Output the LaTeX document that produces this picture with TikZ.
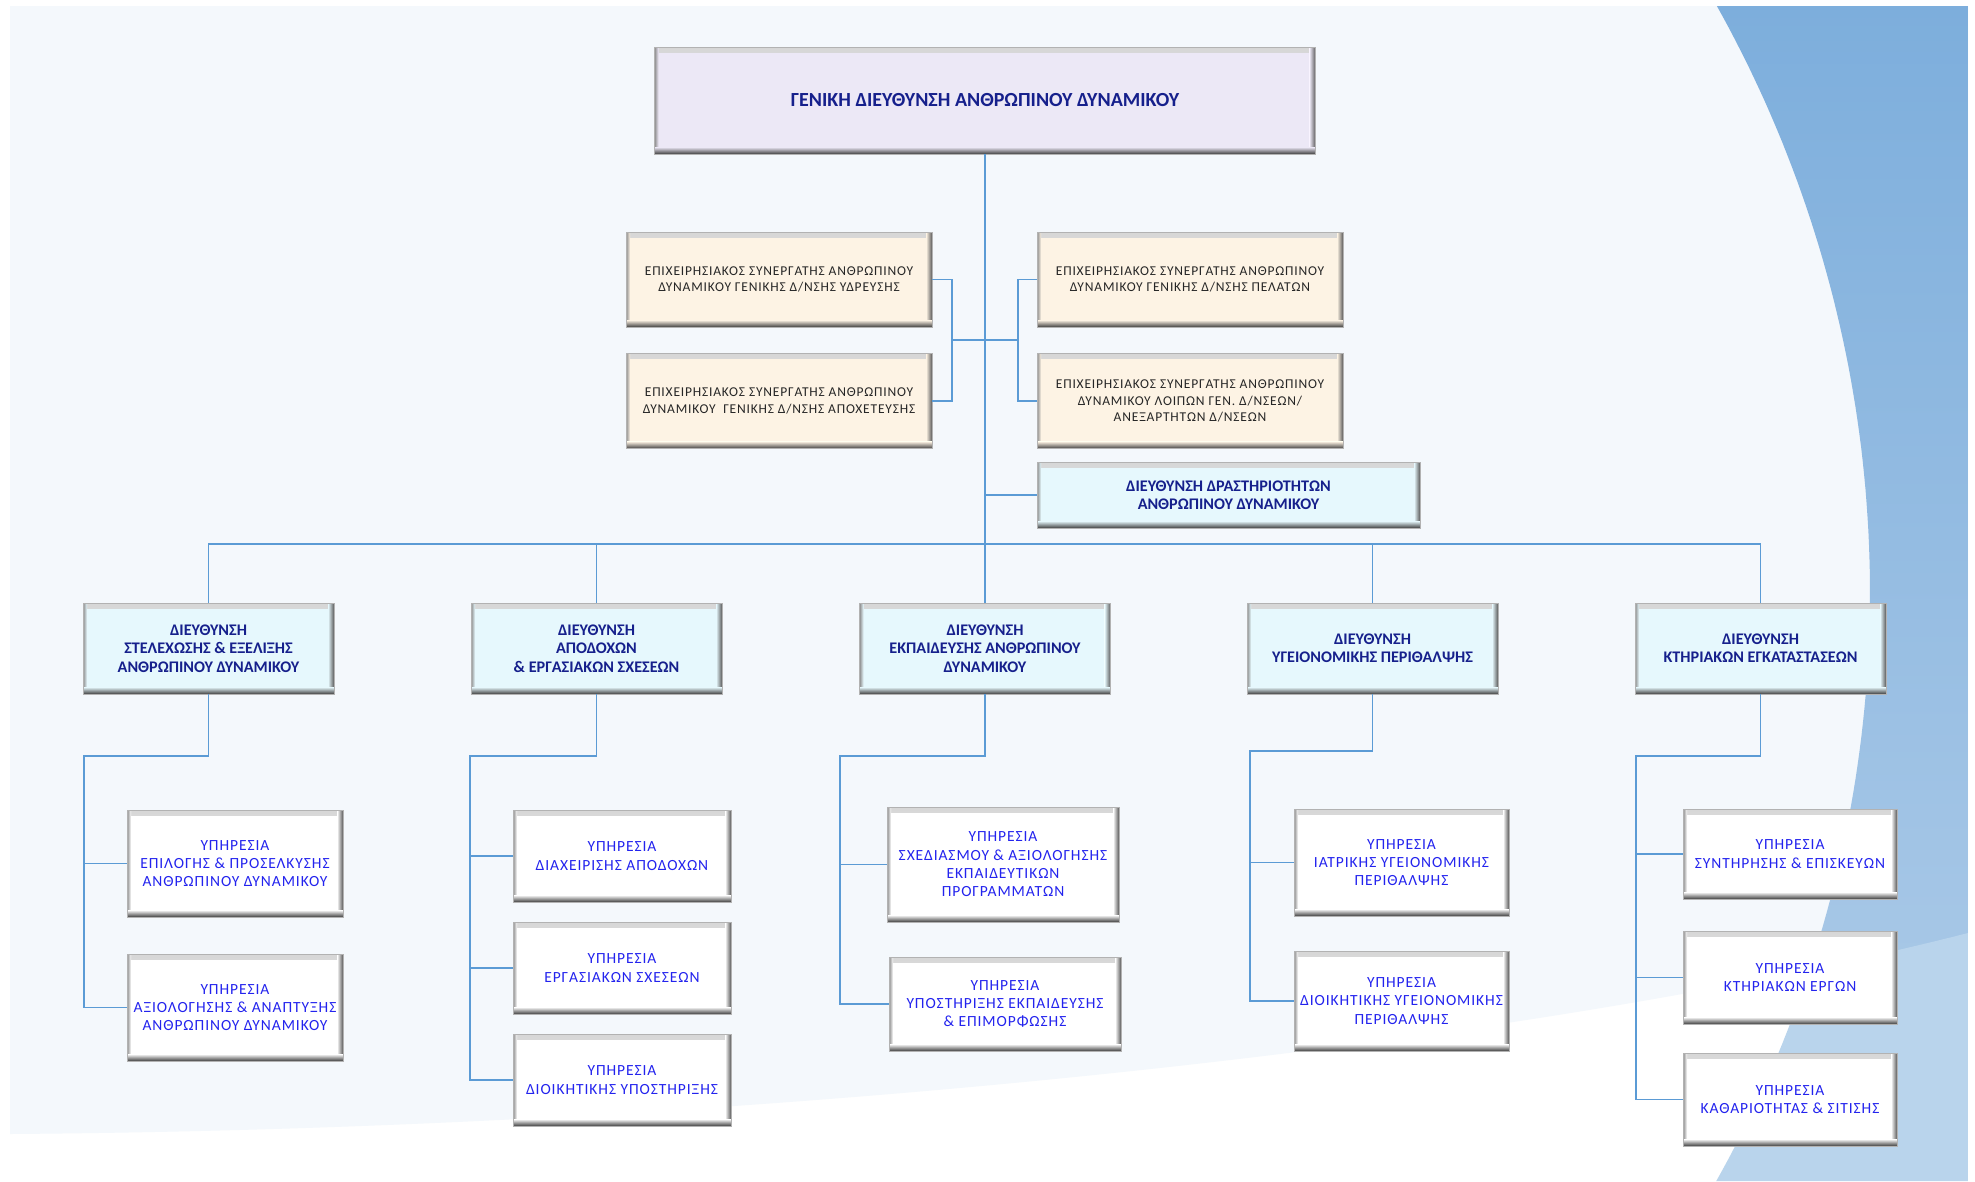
\documentclass[tikz,border=0pt]{standalone}
\usepackage{fontspec}
\setmainfont{Carlito}
\newfontfamily\spacedfont[LetterSpace=6]{Carlito}
\definecolor{panelc}{HTML}{F4F8FC}
\definecolor{blueA}{HTML}{7DAEDC}
\definecolor{blueB}{HTML}{A8C8E7}
\definecolor{blueC}{HTML}{B9D4EC}
\definecolor{lineC}{HTML}{5B9BD5}
\definecolor{titlefill}{HTML}{ECE8F6}
\definecolor{advfill}{HTML}{FDF3E4}
\definecolor{dirfill}{HTML}{E6F8FD}
\definecolor{svcfill}{HTML}{FFFFFF}
\definecolor{navy}{HTML}{16208C}
\definecolor{svcblue}{HTML}{2323EE}
\definecolor{advtext}{HTML}{262626}
\tikzset{
 conn/.style={draw=lineC, line width=1.5pt},
 bevel/.style={rectangle, fill=#1, draw=black!30, line width=0.6pt, inner sep=2pt, align=center,
   path picture={
     \shade[top color=black!16, bottom color=#1] (path picture bounding box.north west) rectangle ([yshift=-5pt]path picture bounding box.north east);
     \shade[left color=black!45, right color=#1] (path picture bounding box.north west) rectangle ([xshift=4pt]path picture bounding box.south west);
     \shade[left color=#1, right color=black!65] ([xshift=-6pt]path picture bounding box.north east) rectangle (path picture bounding box.south east);
     \shade[top color=#1, bottom color=black!75] ([yshift=7pt]path picture bounding box.south west) rectangle (path picture bounding box.south east);
   }},
 titlebox/.style={bevel=titlefill, font=\fontsize{20}{24}\selectfont\bfseries, text=navy},
 advbox/.style={bevel=advfill, minimum width=306pt, minimum height=95pt, font=\spacedfont\fontsize{13.5}{16.4}\selectfont, text=advtext},
 dirbox/.style={bevel=dirfill, font=\fontsize{16.2}{18.3}\selectfont\bfseries, text=navy},
 svcbox/.style={bevel=svcfill, font=\spacedfont\fontsize{15.5}{18.3}\selectfont, text=svcblue},
}
\begin{document}
\begin{tikzpicture}[x=1pt,y=-1pt]
\useasboundingbox (0,0) rectangle (1975,1181);
% background
\fill[white] (0,0) rectangle (1975,1181);
\fill[panelc] (10,6) -- (1968,6) -- (1968,933) .. controls (1550,1040) and (800,1128) .. (10,1134) -- cycle;
\begin{scope}
\clip (1968,6) -- plot[domain=-29.3:29.3,samples=90] ({668+1202*cos(\x)},{593+1202*sin(\x)}) -- (1968,1181) -- cycle;
\shade[top color=blueA, bottom color=blueB] (1600,6) rectangle (1968,1000);
\fill[blueC] (10,1134) .. controls (800,1128) and (1550,1040) .. (1968,933) -- (1968,1181) -- (10,1181) -- cycle;
\end{scope}

% nodes
\node[titlebox, minimum width=661pt, minimum height=107pt] (top) at (985,100.5) {ΓΕΝΙΚΗ ΔΙΕΥΘΥΝΣΗ ΑΝΘΡΩΠΙΝΟΥ ΔΥΝΑΜΙΚΟΥ};

\node[advbox] (a1) at (779,279.5) {ΕΠΙΧΕΙΡΗΣΙΑΚΟΣ ΣΥΝΕΡΓΑΤΗΣ ΑΝΘΡΩΠΙΝΟΥ\\ΔΥΝΑΜΙΚΟΥ ΓΕΝΙΚΗΣ Δ/ΝΣΗΣ ΥΔΡΕΥΣΗΣ};
\node[advbox] (a2) at (779,401) {ΕΠΙΧΕΙΡΗΣΙΑΚΟΣ ΣΥΝΕΡΓΑΤΗΣ ΑΝΘΡΩΠΙΝΟΥ\\ΔΥΝΑΜΙΚΟΥ\ \ ΓΕΝΙΚΗΣ Δ/ΝΣΗΣ ΑΠΟΧΕΤΕΥΣΗΣ};
\node[advbox] (a3) at (1190,279.5) {ΕΠΙΧΕΙΡΗΣΙΑΚΟΣ ΣΥΝΕΡΓΑΤΗΣ ΑΝΘΡΩΠΙΝΟΥ\\ΔΥΝΑΜΙΚΟΥ ΓΕΝΙΚΗΣ Δ/ΝΣΗΣ ΠΕΛΑΤΩΝ};
\node[advbox] (a4) at (1190,401) {ΕΠΙΧΕΙΡΗΣΙΑΚΟΣ ΣΥΝΕΡΓΑΤΗΣ ΑΝΘΡΩΠΙΝΟΥ\\ΔΥΝΑΜΙΚΟΥ ΛΟΙΠΩΝ ΓΕΝ. Δ/ΝΣΕΩΝ/\\ΑΝΕΞΑΡΤΗΤΩΝ Δ/ΝΣΕΩΝ};

\node[dirbox, minimum width=383pt, minimum height=66pt] (act) at (1228.5,495) {ΔΙΕΥΘΥΝΣΗ ΔΡΑΣΤΗΡΙΟΤΗΤΩΝ\\ΑΝΘΡΩΠΙΝΟΥ ΔΥΝΑΜΙΚΟΥ};

\node[dirbox, minimum width=251pt, minimum height=91pt] (d1) at (208.5,648.5) {ΔΙΕΥΘΥΝΣΗ\\ΣΤΕΛΕΧΩΣΗΣ \& ΕΞΕΛΙΞΗΣ\\ΑΝΘΡΩΠΙΝΟΥ ΔΥΝΑΜΙΚΟΥ};
\node[dirbox, minimum width=251pt, minimum height=91pt] (d2) at (596.5,648.5) {ΔΙΕΥΘΥΝΣΗ\\ΑΠΟΔΟΧΩΝ\\\& ΕΡΓΑΣΙΑΚΩΝ ΣΧΕΣΕΩΝ};
\node[dirbox, minimum width=251pt, minimum height=91pt] (d3) at (985,648.5) {ΔΙΕΥΘΥΝΣΗ\\ΕΚΠΑΙΔΕΥΣΗΣ ΑΝΘΡΩΠΙΝΟΥ\\ΔΥΝΑΜΙΚΟΥ};
\node[dirbox, minimum width=251pt, minimum height=91pt] (d4) at (1372.5,648.5) {ΔΙΕΥΘΥΝΣΗ\\ΥΓΕΙΟΝΟΜΙΚΗΣ ΠΕΡΙΘΑΛΨΗΣ};
\node[dirbox, minimum width=251pt, minimum height=91pt] (d5) at (1760.5,648.5) {ΔΙΕΥΘΥΝΣΗ\\ΚΤΗΡΙΑΚΩΝ ΕΓΚΑΤΑΣΤΑΣΕΩΝ};

\node[svcbox, minimum width=216pt, minimum height=107pt] (c11) at (235,863.5) {ΥΠΗΡΕΣΙΑ\\ΕΠΙΛΟΓΗΣ \& ΠΡΟΣΕΛΚΥΣΗΣ\\ΑΝΘΡΩΠΙΝΟΥ ΔΥΝΑΜΙΚΟΥ};
\node[svcbox, minimum width=216pt, minimum height=107pt] (c12) at (235,1007.5) {ΥΠΗΡΕΣΙΑ\\ΑΞΙΟΛΟΓΗΣΗΣ \& ΑΝΑΠΤΥΞΗΣ\\ΑΝΘΡΩΠΙΝΟΥ ΔΥΝΑΜΙΚΟΥ};

\node[svcbox, minimum width=218pt, minimum height=92pt] (c21) at (622,856) {ΥΠΗΡΕΣΙΑ\\ΔΙΑΧΕΙΡΙΣΗΣ ΑΠΟΔΟΧΩΝ};
\node[svcbox, minimum width=218pt, minimum height=92pt] (c22) at (622,968) {ΥΠΗΡΕΣΙΑ\\ΕΡΓΑΣΙΑΚΩΝ ΣΧΕΣΕΩΝ};
\node[svcbox, minimum width=218pt, minimum height=92pt] (c23) at (622,1080) {ΥΠΗΡΕΣΙΑ\\ΔΙΟΙΚΗΤΙΚΗΣ ΥΠΟΣΤΗΡΙΞΗΣ};

\node[svcbox, minimum width=232pt, minimum height=115pt] (c31) at (1003,864.5) {ΥΠΗΡΕΣΙΑ\\ΣΧΕΔΙΑΣΜΟΥ \& ΑΞΙΟΛΟΓΗΣΗΣ\\ΕΚΠΑΙΔΕΥΤΙΚΩΝ\\ΠΡΟΓΡΑΜΜΑΤΩΝ};
\node[svcbox, minimum width=232pt, minimum height=94pt] (c32) at (1005,1004) {ΥΠΗΡΕΣΙΑ\\ΥΠΟΣΤΗΡΙΞΗΣ ΕΚΠΑΙΔΕΥΣΗΣ\\\& ΕΠΙΜΟΡΦΩΣΗΣ};

\node[svcbox, minimum width=215pt, minimum height=107pt] (c41) at (1401.5,862.5) {ΥΠΗΡΕΣΙΑ\\ΙΑΤΡΙΚΗΣ ΥΓΕΙΟΝΟΜΙΚΗΣ\\ΠΕΡΙΘΑΛΨΗΣ};
\node[svcbox, minimum width=215pt, minimum height=100pt] (c42) at (1401.5,1001) {ΥΠΗΡΕΣΙΑ\\ΔΙΟΙΚΗΤΙΚΗΣ ΥΓΕΙΟΝΟΜΙΚΗΣ\\ΠΕΡΙΘΑΛΨΗΣ};

\node[svcbox, minimum width=214pt, minimum height=90pt] (c51) at (1790,854) {ΥΠΗΡΕΣΙΑ\\ΣΥΝΤΗΡΗΣΗΣ \& ΕΠΙΣΚΕΥΩΝ};
\node[svcbox, minimum width=214pt, minimum height=93pt] (c52) at (1790,977.5) {ΥΠΗΡΕΣΙΑ\\ΚΤΗΡΙΑΚΩΝ ΕΡΓΩΝ};
\node[svcbox, minimum width=214pt, minimum height=93pt] (c53) at (1790,1099.5) {ΥΠΗΡΕΣΙΑ\\ΚΑΘΑΡΙΟΤΗΤΑΣ \& ΣΙΤΙΣΗΣ};

% connectors
\coordinate (bus) at (985,544);
\draw[conn] (top.south) -- (top.south |- bus);
\draw[conn] (top.south |- act.west) -- (act.west);
\draw[conn] (d1.north) |- (d5.north |- bus) -- (d5.north);
\foreach \n in {d2,d3,d4} {\draw[conn] (\n.north) -- (\n.north |- bus);}

\coordinate (lb) at (952,340);
\coordinate (rb) at (1018,340);
\draw[conn] (a1.east) -| (lb) |- (a2.east);
\draw[conn] (lb) -- (rb);
\draw[conn] (a3.west) -| (rb) |- (a4.west);

\coordinate (e1) at (84,756);
\coordinate (e2) at (470,756);
\coordinate (e3) at (840,756);
\coordinate (e4) at (1250,751);
\coordinate (e5) at (1636,756);
\draw[conn] (d1.south) |- (e1) |- (c12.west);
\draw[conn] (c11.west) -- (c11.west -| e1);
\draw[conn] (d2.south) |- (e2) |- (c23.west);
\draw[conn] (c21.west) -- (c21.west -| e2);
\draw[conn] (c22.west) -- (c22.west -| e2);
\draw[conn] (d3.south) |- (e3) |- (c32.west);
\draw[conn] (c31.west) -- (c31.west -| e3);
\draw[conn] (d4.south) |- (e4) |- (c42.west);
\draw[conn] (c41.west) -- (c41.west -| e4);
\draw[conn] (d5.south) |- (e5) |- (c53.west);
\draw[conn] (c51.west) -- (c51.west -| e5);
\draw[conn] (c52.west) -- (c52.west -| e5);
\end{tikzpicture}
\end{document}
